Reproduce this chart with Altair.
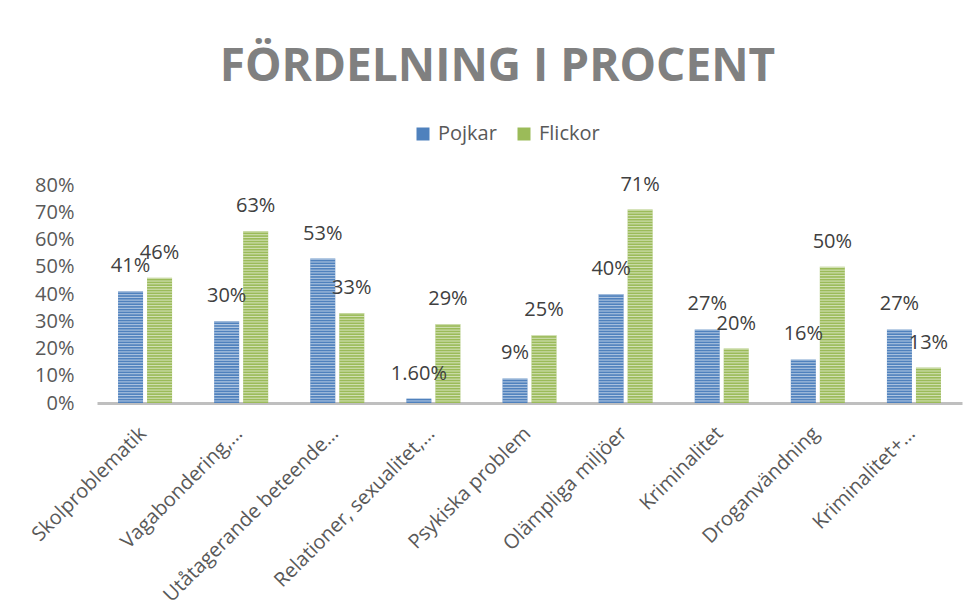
import altair as alt
import pandas as pd

categories = [
    "Skolproblematik",
    "Vagabondering,…",
    "Utåtagerande beteende…",
    "Relationer, sexualitet,…",
    "Psykiska problem",
    "Olämpliga miljöer",
    "Kriminalitet",
    "Droganvändning",
    "Kriminalitet+…",
]
pojkar = [41, 30, 53, 1.6, 9, 40, 27, 16, 27]
flickor = [46, 63, 33, 29, 25, 71, 20, 50, 13]
series = ["Pojkar", "Flickor"]
colors = ["#4F81BD", "#9BBB59"]
y_ticks = [0, 0.1, 0.2, 0.3, 0.4, 0.5, 0.6, 0.7, 0.8]

rows = []
for c, p, f in zip(categories, pojkar, flickor):
    for s, v in ((series[0], p), (series[1], f)):
        lab = f"{v:.2f}%" if v != int(v) else f"{int(v)}%"
        rows.append({"kategori": c, "serie": s, "varde": v / 100, "etikett": lab})
df = pd.DataFrame(rows)

font = "Open Sans"

x = alt.X(
    "kategori:N",
    sort=categories,
    title=None,
    scale=alt.Scale(paddingInner=0.438, paddingOuter=0.219),
    axis=alt.Axis(
        labelAngle=-45,
        labelFontSize=20,
        labelColor="#595959",
        labelFont=font,
        ticks=False,
        domainColor="#BFBFBF",
        domainWidth=3,
        labelPadding=20,
        labelOffset=-9,
        grid=False,
        labelLimit=400,
        labelOverlap=False,
    ),
)
xo = alt.XOffset(
    "serie:N", sort=series, scale=alt.Scale(paddingInner=0.138, paddingOuter=0)
)
y_axis = alt.Axis(
    values=y_ticks,
    format=".0%",
    labelFontSize=20,
    labelColor="#595959",
    labelFont=font,
    ticks=False,
    domain=False,
    grid=False,
    labelPadding=23,
    labelOverlap=False,
    labelBound=False,
)
y_scale = alt.Scale(domain=[0, 0.8])
y = alt.Y("varde:Q", title=None, scale=y_scale, axis=y_axis)

base = alt.Chart(df)

bars = base.mark_bar().encode(
    x=x,
    xOffset=xo,
    y=y,
    color=alt.Color(
        "serie:N",
        sort=series,
        scale=alt.Scale(domain=series, range=colors),
        legend=alt.Legend(
            orient="none",
            legendX=316,
            legendY=-61,
            direction="horizontal",
            title=None,
            symbolType="square",
            symbolSize=169,
            symbolStrokeWidth=0,
            labelFontSize=20,
            labelFont=font,
            labelColor="#595959",
            columnPadding=17,
            labelOffset=5,
        ),
    ),
)

stripes = (
    base.transform_calculate(k="sequence(0, datum.varde * 100 - 0.95, 1)")
    .transform_flatten(["k"])
    .transform_calculate(y0="datum.k / 100 + 0.0055", y1="datum.k / 100 + 0.0095")
    .mark_bar(color="white", opacity=0.55)
    .encode(
        x=x,
        xOffset=xo,
        y=alt.Y("y0:Q", title=None, scale=y_scale, axis=y_axis),
        y2="y1:Q",
    )
)

labels = base.mark_text(
    dy=-19, baseline="alphabetic", fontSize=20, color="#404040", font=font
).encode(x=x, xOffset=xo, y=y, text="etikett:N")

chart = (
    alt.layer(bars, stripes, labels)
    .properties(
        width=865,
        height=218,
        autosize=alt.AutoSizeParams(type="none"),
        padding={"left": 89, "top": 177, "right": 6, "bottom": 205},
        title=alt.TitleParams(
            "FÖRDELNING I PROCENT",
            font=font,
            fontSize=46,
            fontWeight="bold",
            color="#808080",
            anchor="middle",
            dx=-32,
            offset=33,
        ),
    )
    .configure_view(stroke=None, strokeWidth=0)
)

chart.save("out.html", embed_options={"renderer": "svg", "actions": False})
